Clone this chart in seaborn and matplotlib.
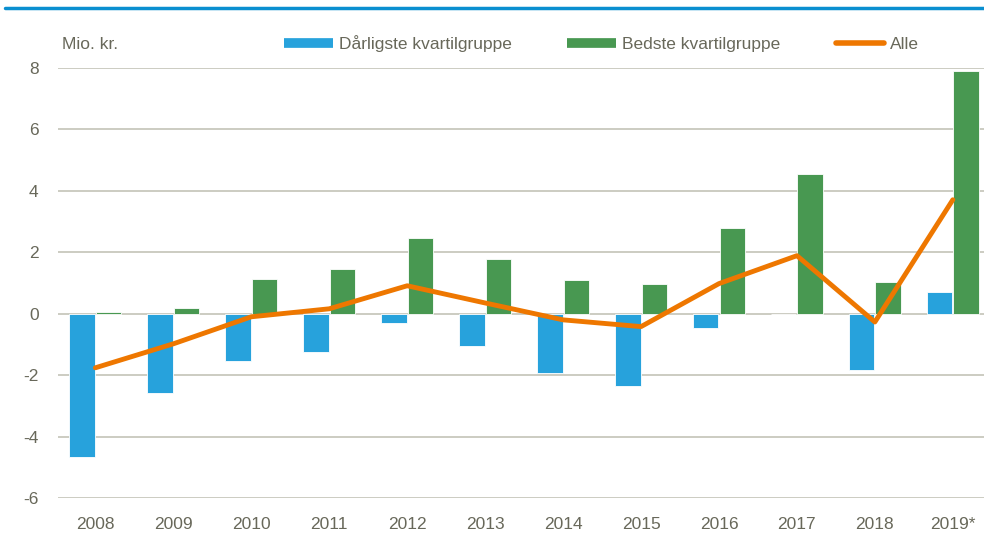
import matplotlib
matplotlib.use("Agg")
import matplotlib.pyplot as plt
from matplotlib.lines import Line2D
import pandas as pd
import seaborn as sns

years = ["2008", "2009", "2010", "2011", "2012", "2013", "2014",
         "2015", "2016", "2017", "2018", "2019*"]
worst = [-4.65, -2.57, -1.53, -1.24, -0.29, -1.04, -1.92, -2.35, -0.45, 0.0, -1.82, 0.72]
best = [0.05, 0.20, 1.14, 1.44, 2.46, 1.78, 1.10, 0.97, 2.79, 4.54, 1.04, 7.90]
alle = [-1.76, -0.98, -0.10, 0.16, 0.91, 0.35, -0.20, -0.42, 0.98, 1.89, -0.27, 3.71]

lbl_worst = "Dårligste kvartilgruppe"
lbl_best = "Bedste kvartilgruppe"
lbl_alle = "Alle"

c_blue = "#27a2dc"
c_green = "#489851"
c_orange = "#ee7700"
c_text = "#68685a"
c_grid = "#c4c4b8"
fs = 12.5

bars = pd.DataFrame({
    "year": years * 2,
    "value": worst + best,
    "group": [lbl_worst] * len(years) + [lbl_best] * len(years),
})
line = pd.DataFrame({"year": years, "value": alle})

sns.set_style("white")
plt.rcParams["font.family"] = ["Liberation Sans", "DejaVu Sans"]
plt.rcParams["axes.unicode_minus"] = False

fig = plt.figure(figsize=(9.84, 5.41), dpi=100)
ax = fig.add_axes([58 / 984, 1 - 498 / 541, 1 - 58 / 984, (498 - 68) / 541])

sns.barplot(data=bars, x="year", y="value", hue="group",
            palette={lbl_worst: c_blue, lbl_best: c_green}, saturation=1,
            width=0.68, gap=0.04, edgecolor="white", linewidth=0.6,
            legend=False, ax=ax, zorder=2)
sns.lineplot(data=line, x="year", y="value", color=c_orange, linewidth=3.5,
             sort=False, ax=ax, zorder=3)

ax.set_ylim(-6, 8)
ax.set_xlim(-0.48, 11.4)
ax.set_yticks(range(-6, 9, 2))
ax.yaxis.grid(True, color=c_grid, linewidth=1.2, zorder=0)
ax.set_axisbelow(True)
for s in ax.spines.values():
    s.set_visible(False)
ax.set_xlabel("")
ax.set_ylabel("")
ax.tick_params(axis="y", length=0, pad=14, labelsize=fs, labelcolor=c_text)
ax.tick_params(axis="x", length=0, pad=14, labelsize=fs, labelcolor=c_text)

handles = [
    Line2D([], [], color=c_blue, linewidth=7, solid_capstyle="butt"),
    Line2D([], [], color=c_green, linewidth=7, solid_capstyle="butt"),
    Line2D([], [], color=c_orange, linewidth=4, solid_capstyle="round"),
]
fig.legend(handles, [lbl_worst, lbl_best, lbl_alle], ncol=3, frameon=False,
           loc="center left", bbox_to_anchor=(284 / 984, 1 - 44 / 541),
           fontsize=fs, labelcolor=c_text, handlelength=2.8, handletextpad=0.35,
           columnspacing=3.2, borderpad=0, borderaxespad=0)

fig.text(62 / 984, 1 - 45 / 541, "Mio. kr.", fontsize=fs, color=c_text,
         ha="left", va="center")

fig.add_artist(Line2D([5 / 984, 1], [1 - 8 / 541, 1 - 8 / 541],
                      transform=fig.transFigure, color="#0a8fd0", linewidth=2.5))

fig.savefig("out.png", dpi=100)
